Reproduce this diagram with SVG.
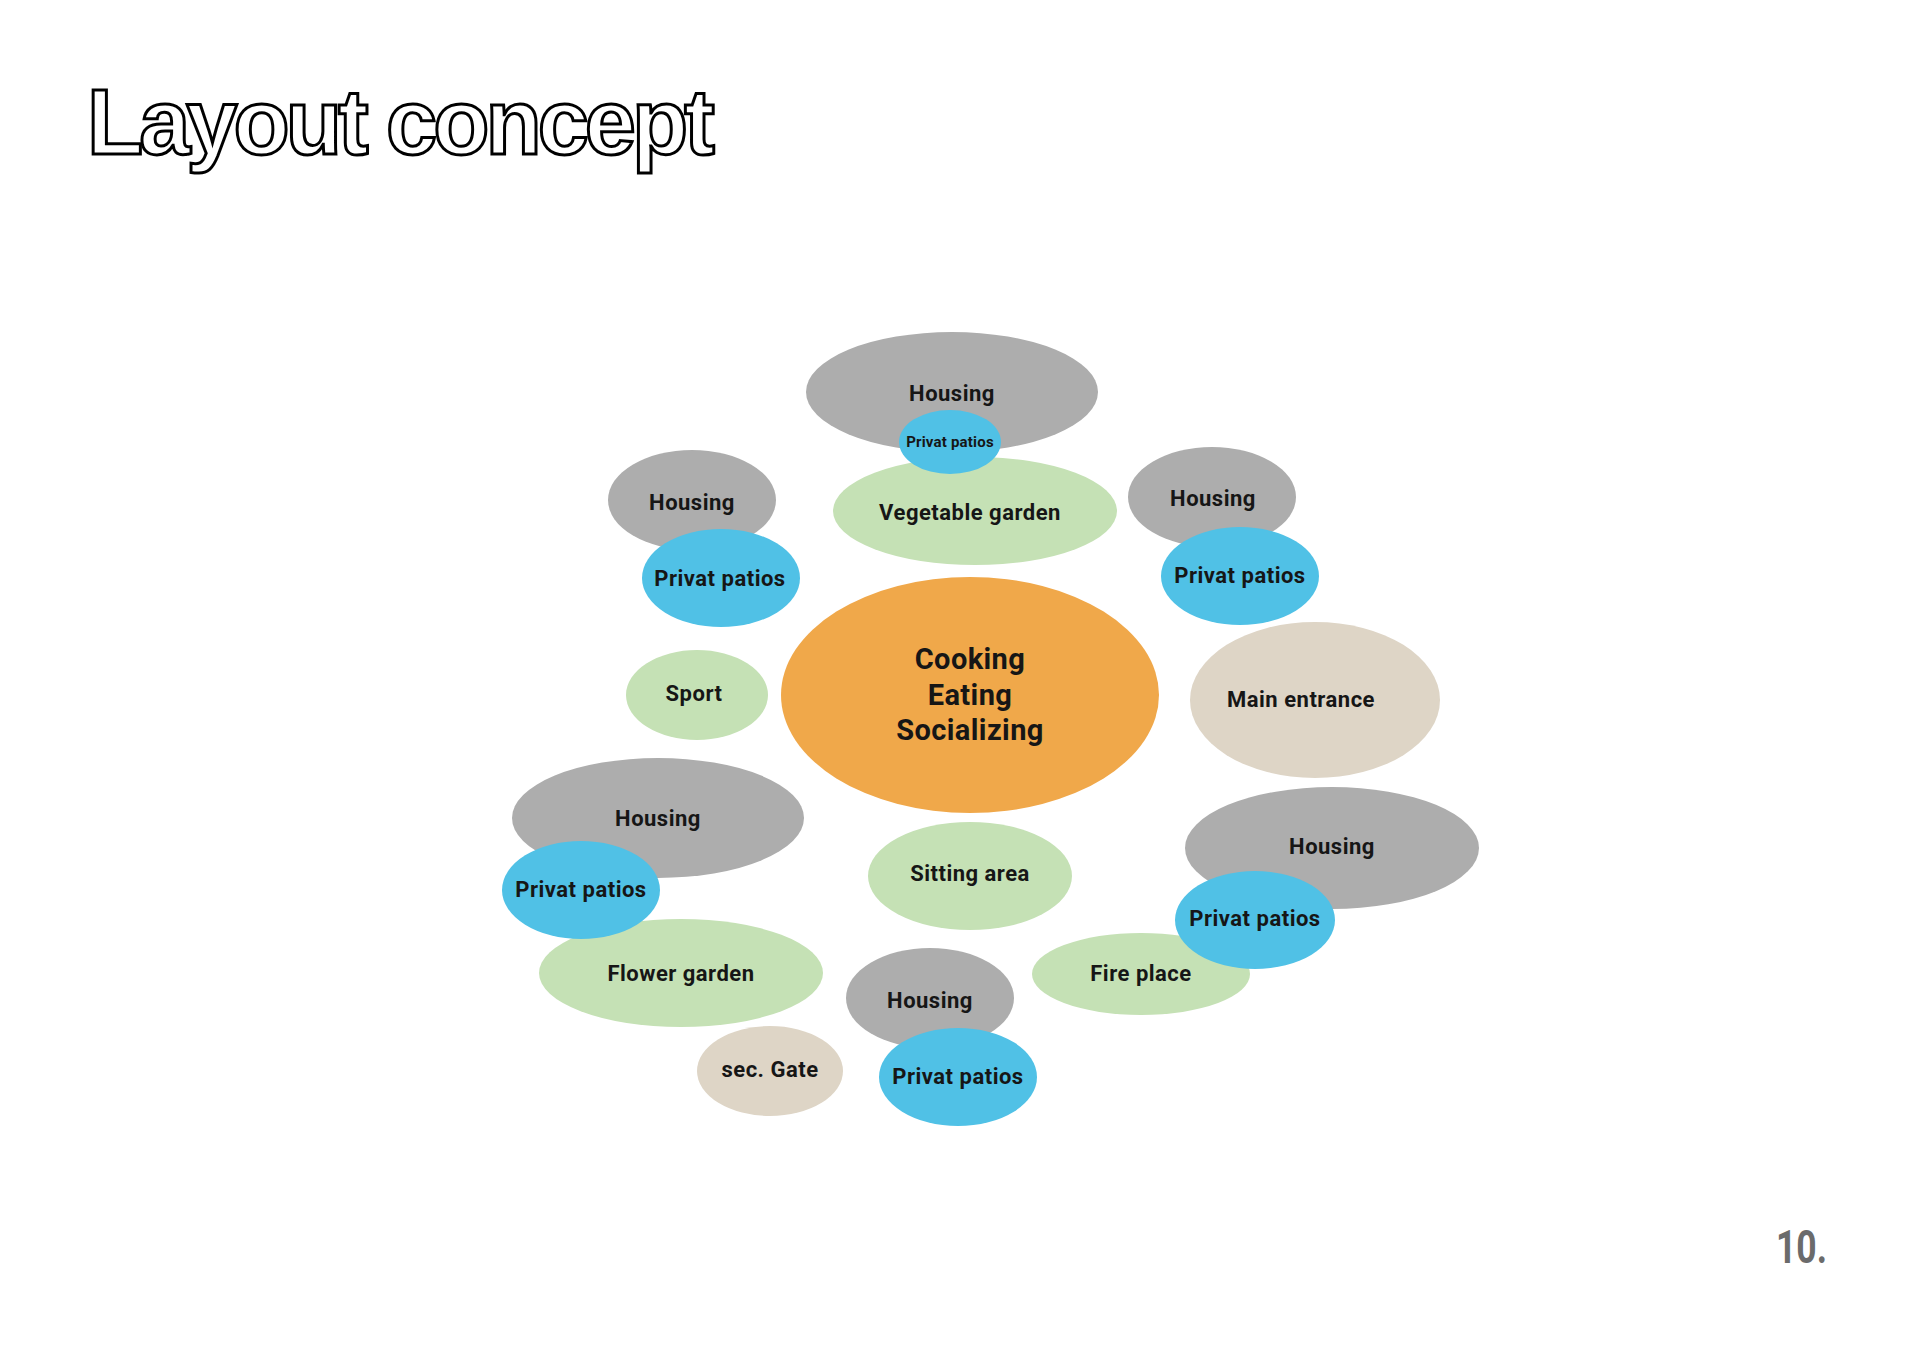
<svg xmlns="http://www.w3.org/2000/svg" width="1920" height="1357" viewBox="0 0 1920 1357">
<style>
.lbl{font-family:Roboto,"Liberation Sans",sans-serif;font-weight:700;font-size:22px;fill:#161616;text-anchor:middle;letter-spacing:0.5px}
.sm{font-size:15px;letter-spacing:0.2px}
.big{font-size:29px;letter-spacing:0.4px}
.house{fill:#adadad}
.patio{fill:#50c1e6}
.green{fill:#c5e1b5}
.beige{fill:#ded5c6}
.core{fill:#f0a84a}
.title{font-family:"Liberation Sans",Arial,sans-serif;font-weight:700;font-size:92px;fill:#ffffff;stroke:#000000;stroke-width:3px;letter-spacing:-4px}
.pn{font-family:Roboto,"Liberation Sans",sans-serif;font-weight:700;font-size:47px;fill:#6b6b6b}
</style>
<rect x="0" y="0" width="1920" height="1357" fill="#ffffff"/>
<text class="title" x="87" y="154">Layout concept</text>
<text class="pn" x="1776" y="1263" textLength="51" lengthAdjust="spacingAndGlyphs">10.</text>

<g id="housing-top"><ellipse class="house" cx="952" cy="392" rx="146" ry="60"/><text class="lbl" x="952" y="401">Housing</text></g>
<g id="vegetable-garden"><ellipse class="green" cx="975" cy="511" rx="142" ry="54"/><text class="lbl" x="970" y="520">Vegetable garden</text></g>
<g id="patios-top"><ellipse class="patio" cx="950" cy="442" rx="51" ry="32"/><text class="lbl sm" x="950" y="447">Privat patios</text></g>

<g id="housing-left-top"><ellipse class="house" cx="692" cy="500" rx="84" ry="50"/><text class="lbl" x="692" y="510">Housing</text></g>
<g id="patios-left-top"><ellipse class="patio" cx="721" cy="578" rx="79" ry="49"/><text class="lbl" x="720" y="586">Privat patios</text></g>

<g id="housing-right-top"><ellipse class="house" cx="1212" cy="497" rx="84" ry="50"/><text class="lbl" x="1213" y="506">Housing</text></g>
<g id="patios-right-top"><ellipse class="patio" cx="1240" cy="576" rx="79" ry="49"/><text class="lbl" x="1240" y="583">Privat patios</text></g>

<g id="core"><ellipse class="core" cx="970" cy="695" rx="189" ry="118"/>
<text class="lbl big" x="970" y="669">Cooking</text>
<text class="lbl big" x="970" y="705">Eating</text>
<text class="lbl big" x="970" y="740">Socializing</text></g>

<g id="sport"><ellipse class="green" cx="697" cy="695" rx="71" ry="45"/><text class="lbl" x="694" y="701">Sport</text></g>
<g id="main-entrance"><ellipse class="beige" cx="1315" cy="700" rx="125" ry="78"/><text class="lbl" x="1301" y="707">Main entrance</text></g>

<g id="housing-left-bottom"><ellipse class="house" cx="658" cy="818" rx="146" ry="60"/><text class="lbl" x="658" y="826">Housing</text></g>
<g id="flower-garden"><ellipse class="green" cx="681" cy="973" rx="142" ry="54"/><text class="lbl" x="681" y="981">Flower garden</text></g>
<g id="patios-left-bottom"><ellipse class="patio" cx="581" cy="890" rx="79" ry="49"/><text class="lbl" x="581" y="897">Privat patios</text></g>

<g id="sitting-area"><ellipse class="green" cx="970" cy="876" rx="102" ry="54"/><text class="lbl" x="970" y="881">Sitting area</text></g>

<g id="housing-right-bottom"><ellipse class="house" cx="1332" cy="848" rx="147" ry="61"/><text class="lbl" x="1332" y="854">Housing</text></g>
<g id="fire-place"><ellipse class="green" cx="1141" cy="974" rx="109" ry="41"/><text class="lbl" x="1141" y="981">Fire place</text></g>
<g id="patios-right-bottom"><ellipse class="patio" cx="1255" cy="920" rx="80" ry="49"/><text class="lbl" x="1255" y="926">Privat patios</text></g>

<g id="sec-gate"><ellipse class="beige" cx="770" cy="1071" rx="73" ry="45"/><text class="lbl" x="770" y="1077">sec. Gate</text></g>
<g id="housing-bottom"><ellipse class="house" cx="930" cy="998" rx="84" ry="50"/><text class="lbl" x="930" y="1008">Housing</text></g>
<g id="patios-bottom"><ellipse class="patio" cx="958" cy="1077" rx="79" ry="49"/><text class="lbl" x="958" y="1084">Privat patios</text></g>
</svg>
